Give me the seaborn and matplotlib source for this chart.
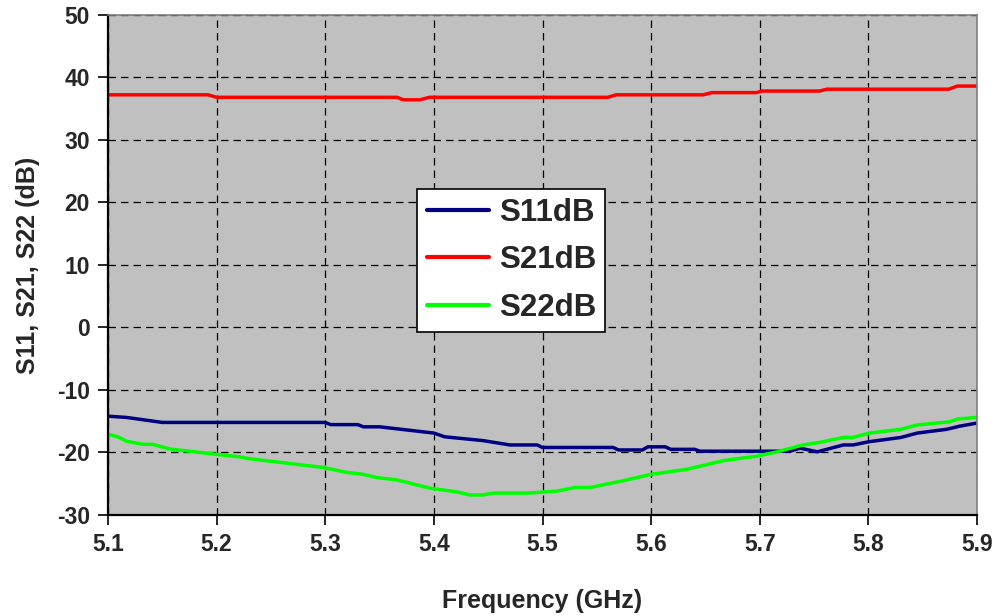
import numpy as np
import pandas as pd
import seaborn as sns
import matplotlib
matplotlib.use("Agg")
import matplotlib.pyplot as plt

# Measured S-parameters (dB) versus frequency (GHz)
s11_freq = [5.100, 5.117, 5.150, 5.300, 5.305, 5.330, 5.335, 5.350, 5.400, 5.410,
            5.445, 5.470, 5.495, 5.500, 5.565, 5.570, 5.592, 5.597, 5.613, 5.618,
            5.640, 5.645, 5.728, 5.737, 5.753, 5.777, 5.786, 5.800, 5.830, 5.845,
            5.872, 5.884, 5.900]
s11_db = [-14.2, -14.4, -15.2, -15.2, -15.55, -15.55, -15.9, -15.9, -16.9, -17.5,
          -18.1, -18.8, -18.8, -19.2, -19.2, -19.6, -19.6, -19.1, -19.1, -19.5,
          -19.5, -19.8, -19.8, -19.3, -19.9, -18.8, -18.8, -18.3, -17.6, -16.9,
          -16.3, -15.8, -15.3]

s21_freq = [5.100, 5.192, 5.200, 5.366, 5.372, 5.387, 5.396, 5.560, 5.568, 5.648,
            5.656, 5.697, 5.702, 5.755, 5.762, 5.874, 5.882, 5.900]
s21_db = [37.2, 37.2, 36.8, 36.8, 36.4, 36.4, 36.8, 36.8, 37.2, 37.2,
          37.55, 37.55, 37.8, 37.8, 38.1, 38.1, 38.6, 38.6]

s22_freq = [5.100, 5.109, 5.117, 5.132, 5.141, 5.157, 5.200, 5.221, 5.230, 5.298,
            5.320, 5.335, 5.347, 5.366, 5.396, 5.421, 5.433, 5.445, 5.455, 5.486,
            5.513, 5.530, 5.544, 5.575, 5.600, 5.633, 5.667, 5.697, 5.716, 5.740,
            5.755, 5.777, 5.786, 5.801, 5.830, 5.845, 5.875, 5.882, 5.900]
s22_db = [-17.1, -17.5, -18.2, -18.7, -18.7, -19.45, -20.3, -20.7, -21.0, -22.4,
          -23.2, -23.5, -24.0, -24.4, -25.7, -26.3, -26.8, -26.8, -26.5, -26.5,
          -26.2, -25.6, -25.6, -24.5, -23.5, -22.7, -21.3, -20.6, -19.9, -18.8,
          -18.4, -17.6, -17.6, -16.9, -16.3, -15.6, -15.1, -14.65, -14.4]

series_names = ["S11dB", "S21dB", "S22dB"]
series_colors = ["#000080", "#FF0000", "#00FF00"]
x_ticks = [5.1, 5.2, 5.3, 5.4, 5.5, 5.6, 5.7, 5.8, 5.9]
y_ticks = [-30, -20, -10, 0, 10, 20, 30, 40, 50]

df = pd.concat([
    pd.DataFrame({"freq": s11_freq, "db": s11_db, "series": series_names[0]}),
    pd.DataFrame({"freq": s21_freq, "db": s21_db, "series": series_names[1]}),
    pd.DataFrame({"freq": s22_freq, "db": s22_db, "series": series_names[2]}),
], ignore_index=True)

sns.set_theme(style="ticks")
plt.rcParams["font.family"] = ["Liberation Sans", "DejaVu Sans"]

fig = plt.figure(figsize=(10.04, 6.16), dpi=100)
ax = fig.add_axes([0.1076, 0.164, 0.8655, 0.812])
ax.set_facecolor("#C0C0C0")

sns.lineplot(data=df, x="freq", y="db", hue="series", hue_order=series_names,
             palette=series_colors, estimator=None, sort=False, linewidth=2.5,
             ax=ax, legend=True)
for ln in ax.get_lines():
    ln.set_solid_joinstyle("round")
    ln.set_solid_capstyle("round")

ax.set_xlim(5.1, 5.9)
ax.set_ylim(-30, 50)
ax.set_xticks(x_ticks)
ax.set_xticklabels([f"{t:.1f}" for t in x_ticks])
ax.set_yticks(y_ticks)
ax.set_yticklabels([str(t) for t in y_ticks])

ax.grid(True, color="black", linestyle=(0, (6, 4)), linewidth=0.9)
ax.set_axisbelow(True)

ax.tick_params(axis="both", direction="out", length=7, width=1.2, color="black",
               labelsize=16.5, pad=6)
for lab in ax.get_xticklabels() + ax.get_yticklabels():
    lab.set_fontweight("bold")

ax.set_xlabel("Frequency (GHz)", fontsize=18, fontweight="bold", labelpad=24)
ax.set_ylabel("S11, S21, S22 (dB)", fontsize=18, fontweight="bold", labelpad=12)

for side in ["left", "bottom"]:
    ax.spines[side].set_color("black")
    ax.spines[side].set_linewidth(1.6)
for side in ["top", "right"]:
    ax.spines[side].set_color("#808080")
    ax.spines[side].set_linewidth(1.2)

handles, labels = ax.get_legend_handles_labels()
leg = ax.legend(handles, labels, loc="upper left", bbox_to_anchor=(0.356, 0.652),
                frameon=True, fancybox=False, framealpha=1.0, edgecolor="black",
                facecolor="white", prop={"size": 22.5, "weight": "bold"},
                handlelength=2.0, handletextpad=0.3, labelspacing=0.55,
                borderpad=0.3, borderaxespad=0.0)
leg.get_frame().set_linewidth(1.2)
for h in leg.get_lines():
    h.set_linewidth(3.0)

fig.savefig("out.png", dpi=100)
